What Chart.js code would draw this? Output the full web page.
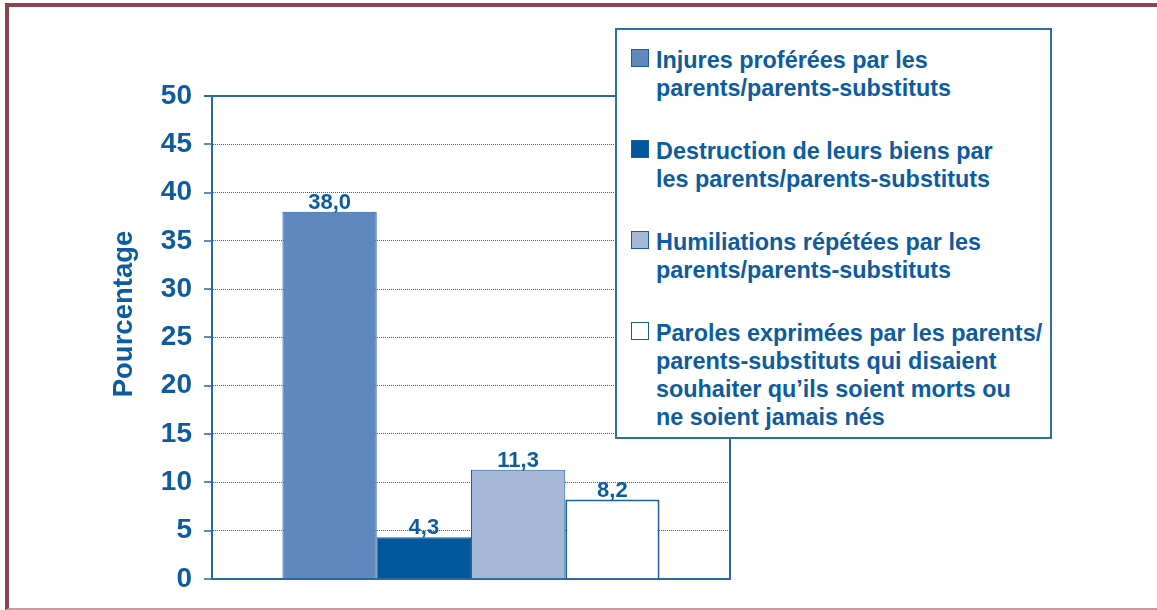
<!DOCTYPE html>
<html lang="fr">
<head>
<meta charset="utf-8">
<title>Pourcentage</title>
<script src="https://cdn.jsdelivr.net/npm/chart.js@4.4.1/dist/chart.umd.min.js"></script>
<style>
    html, body { margin: 0; padding: 0; background: #fff; }
    body {
        width: 1157px; height: 610px; position: relative; overflow: hidden;
        font-family: "Liberation Sans", Arial, sans-serif;
    }
    #frame {
        position: absolute; left: 5px; top: 3px; width: 1160px; height: 601px;
        border-top: 4px solid #8d4351; border-left: 4px solid #8d4351;
        border-bottom: 2px solid #c39ca5;
    }
    #chart { position: absolute; left: 0; top: 0; }
    #legend {
        position: absolute; left: 615px; top: 28px; width: 437px; height: 411px;
        box-sizing: border-box; border: 2px solid #2e6ea8; background: #fff;
        padding: 16px 0 0 14px;
    }
    .item {
        position: relative; padding-left: 25px; margin-bottom: 35px;
        font-size: 23.4px; line-height: 28px; font-weight: bold;
        color: #0d5c9e; white-space: nowrap;
    }
    .swatch {
        position: absolute; left: 0; top: 3px; width: 18px; height: 18px;
        box-sizing: border-box; border: 1.5px solid #1b5e9d;
    }
</style>
</head>
<body>
<div id="frame"></div>
<canvas id="chart" width="1157" height="610"></canvas>
<div id="legend"></div>
<script>
// Chart data
const categories = [''];
const seriesLabels = [
    ['Injures proférées par les', 'parents/parents-substituts'],
    ['Destruction de leurs biens par', 'les parents/parents-substituts'],
    ['Humiliations répétées par les', 'parents/parents-substituts'],
    ['Paroles exprimées par les parents/', 'parents-substituts qui disaient',
        'souhaiter qu\u2019ils soient morts ou', 'ne soient jamais nés']
];
const seriesValues = [38.0, 4.3, 11.3, 8.2];
const seriesColors = ['#5f89bc', '#03579b', '#a5b8d7', '#ffffff'];
const yTitle = 'Pourcentage';
const yMin = 0;
const yMax = 50;
const yStep = 5;

const BLUE = '#0d5c9e';
const LINE = '#2a68a4';

// Frame, tick marks, axis title and value labels
const extras = {
    id: 'extras',
    afterDatasetsDraw(chart) {
        const ctx = chart.ctx;
        const area = chart.chartArea;
        const y = chart.scales.y;

        ctx.save();
        ctx.strokeStyle = LINE;
        ctx.lineWidth = 2;
        ctx.beginPath();
        ctx.moveTo(area.left - 8, area.top);
        ctx.lineTo(area.right, area.top);
        ctx.lineTo(area.right, area.bottom);
        ctx.stroke();

        // tick marks
        ctx.lineWidth = 1.5;
        y.ticks.forEach(t => {
            const py = Math.round(y.getPixelForValue(t.value));
            ctx.beginPath();
            ctx.moveTo(area.left - 8, py);
            ctx.lineTo(area.left, py);
            ctx.stroke();
        });

        // y title
        ctx.fillStyle = BLUE;
        ctx.font = 'bold 27.5px "Liberation Sans", Arial, sans-serif';
        ctx.textAlign = 'center';
        ctx.textBaseline = 'middle';
        ctx.translate(124, 314);
        ctx.rotate(-Math.PI / 2);
        ctx.fillText(yTitle, 0, 0);
        ctx.restore();

        // value labels
        ctx.save();
        ctx.fillStyle = BLUE;
        ctx.font = 'bold 22px "Liberation Sans", Arial, sans-serif';
        ctx.textAlign = 'center';
        ctx.textBaseline = 'alphabetic';
        chart.data.datasets.forEach((ds, i) => {
            const meta = chart.getDatasetMeta(i);
            meta.data.forEach((el, j) => {
                const txt = ds.data[j].toFixed(1).replace('.', ',');
                ctx.fillText(txt, el.x, el.y - 3);
            });
        });
        ctx.restore();
    }
};

const datasets = seriesValues.map((v, i) => ({
    label: seriesLabels[i].join(' '),
    data: [v],
    backgroundColor: seriesColors[i],
    borderColor: '#1f609e',
    borderWidth: i === 3 ? 2 : 1,
    barPercentage: 1,
    categoryPercentage: 0.728
}));

new Chart(document.getElementById('chart'), {
    type: 'bar',
    data: { labels: categories, datasets: datasets },
    plugins: [extras],
    options: {
        responsive: false,
        animation: false,
        layout: { padding: { left: 0, top: 96, right: 427, bottom: 30 } },
        plugins: { legend: { display: false }, tooltip: { enabled: false } },
        scales: {
            x: {
                grid: { display: false },
                ticks: { display: false },
                border: { display: true, color: LINE, width: 2 },
                afterFit(scale) { scale.height = 0; }
            },
            y: {
                min: yMin,
                max: yMax,
                ticks: {
                    stepSize: yStep,
                    color: BLUE,
                    padding: 20,
                    font: { family: '"Liberation Sans", Arial, sans-serif', size: 28, weight: 'bold', lineHeight: 0.8 }
                },
                grid: { color: LINE, lineWidth: 1, drawTicks: false },
                border: { display: true, color: LINE, width: 2, dash: [1, 1] },
                afterFit(scale) { scale.width = 212; }
            }
        }
    }
});

// HTML legend
const legend = document.getElementById('legend');
seriesLabels.forEach((lines, i) => {
    const item = document.createElement('div');
    item.className = 'item';
    const sw = document.createElement('span');
    sw.className = 'swatch';
    sw.style.background = seriesColors[i];
    item.appendChild(sw);
    lines.forEach((line, k) => {
        if (k > 0) item.appendChild(document.createElement('br'));
        item.appendChild(document.createTextNode(line));
    });
    legend.appendChild(item);
});
</script>
</body>
</html>
